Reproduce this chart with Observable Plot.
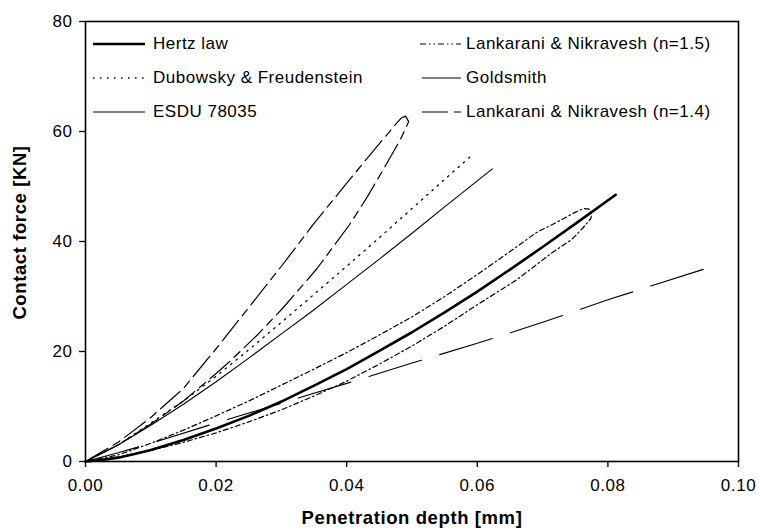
<!DOCTYPE html>
<html>
<head>
<meta charset="utf-8">
<script src="https://cdn.jsdelivr.net/npm/d3@7"></script>
<script src="https://cdn.jsdelivr.net/npm/@observablehq/plot@0.6"></script>
<style>
  body { margin: 0; background: #fff; }
  #wrap { position: relative; width: 760px; height: 532px; font-family: "Liberation Sans", Arial, sans-serif; }
  #wrap svg text { letter-spacing: 0.6px; }
  .legtext { position: absolute; font-size: 17px; letter-spacing: 0.5px; line-height: 20px; white-space: nowrap; color: #000; }
  .legsample { position: absolute; overflow: visible; }
</style>
</head>
<body>
<div id="wrap"></div>
<script>
// ---- data ----
const xTicks = [0, 0.02, 0.04, 0.06, 0.08, 0.10];
const yTicks = [0, 20, 40, 60, 80];

const hertzDepth = [0, 0.0025, 0.005, 0.0075, 0.01, 0.015, 0.02, 0.025, 0.03, 0.035, 0.04, 0.045, 0.05, 0.055, 0.06, 0.065, 0.07, 0.075, 0.0812];
const hertzForce = [0, 0.26, 0.7, 1.35, 2.1, 3.9, 6.0, 8.3, 10.9, 13.8, 16.8, 20.1, 23.5, 27.1, 30.9, 34.9, 39.0, 43.2, 48.5];

const ln15Depth = [0, 0.005, 0.01, 0.015, 0.02, 0.025, 0.03, 0.035, 0.04, 0.045, 0.05, 0.055, 0.06, 0.066, 0.069, 0.0725, 0.0748, 0.0763, 0.0771, 0.0775, 0.0774, 0.0762, 0.0745, 0.0715, 0.066, 0.06, 0.055, 0.05, 0.045, 0.04, 0.035, 0.03, 0.025, 0.02, 0.015, 0.01, 0.005, 0];
const ln15Force = [0, 1.2, 3.3, 5.7, 8.3, 11.0, 13.9, 16.8, 19.8, 23.0, 26.3, 30.0, 34.0, 39.0, 41.6, 43.7, 45.2, 46.0, 45.9, 45.2, 44.2, 42.5, 40.4, 38.0, 33.0, 28.5, 24.6, 21.0, 17.7, 14.6, 11.9, 9.4, 7.2, 5.2, 3.5, 2.0, 0.8, 0];

const dubDepth = [0, 0.005, 0.01, 0.015, 0.02, 0.025, 0.03, 0.035, 0.04, 0.045, 0.05, 0.055, 0.0592];
const dubForce = [0, 3.0, 7.0, 11.0, 15.5, 20.3, 25.3, 30.4, 35.5, 40.7, 46.0, 51.3, 55.7];

const goldDepth = [0, 0.005, 0.01, 0.015, 0.02, 0.025, 0.03, 0.035, 0.04, 0.045, 0.05, 0.055, 0.0623];
const goldForce = [0, 3.0, 6.6, 10.4, 14.5, 18.8, 23.2, 27.6, 32.2, 36.8, 41.5, 46.3, 53.2];

const esduDepth = [0, 0.005, 0.01, 0.02, 0.03, 0.04, 0.05, 0.06, 0.07, 0.08, 0.0953];
const esduForce = [0, 1.6, 3.3, 7.0, 10.6, 14.2, 17.9, 21.5, 25.3, 29.4, 35.2];

const ln14Depth = [0, 0.005, 0.01, 0.015, 0.02, 0.025, 0.03, 0.035, 0.04, 0.045, 0.0483, 0.049, 0.0495, 0.0482, 0.0458, 0.0432, 0.0404, 0.0354, 0.0303, 0.0264, 0.0221, 0.02, 0.015, 0.01, 0.005, 0];
const ln14Force = [0, 3.5, 8.0, 13.3, 20.5, 28.0, 35.5, 43.3, 50.6, 57.8, 62.4, 62.8, 61.8, 58.5, 53.5, 48.2, 43.0, 35.0, 28.0, 23.1, 18.2, 16.0, 11.0, 6.8, 3.0, 0];

const seriesNames = ["Hertz law", "Lankarani & Nikravesh (n=1.5)", "Dubowsky & Freudenstein", "Goldsmith", "ESDU 78035", "Lankarani & Nikravesh (n=1.4)"];

// ---- styles ----
const styles = {
  "Hertz law": {w: 2.6, dash: null, legDash: null},
  "Lankarani & Nikravesh (n=1.5)": {w: 1.2, dash: "5,3,1.5,3", legDash: "6,3,1.5,3,1.5,3"},
  "Dubowsky & Freudenstein": {w: 1.3, dash: "1.5,5.5", legDash: "1.5,5.5"},
  "Goldsmith": {w: 1.1, dash: null, legDash: null},
  "ESDU 78035": {w: 1.1, dash: "55,19", legDash: null},
  "Lankarani & Nikravesh (n=1.4)": {w: 1.2, dash: "26,6,8,6", legDash: "26,6,8,100"}
};

const series = [
  {name: seriesNames[0], depth: hertzDepth, force: hertzForce},
  {name: seriesNames[1], depth: ln15Depth, force: ln15Force},
  {name: seriesNames[2], depth: dubDepth, force: dubForce},
  {name: seriesNames[3], depth: goldDepth, force: goldForce},
  {name: seriesNames[4], depth: esduDepth, force: esduForce},
  {name: seriesNames[5], depth: ln14Depth, force: ln14Force}
];

const chart = Plot.plot({
  width: 760,
  height: 532,
  marginLeft: 85,
  marginRight: 22,
  marginTop: 21,
  marginBottom: 71,
  style: {fontFamily: '"Liberation Sans", Arial, sans-serif', fontSize: "17px", color: "#000", background: "#fff"},
  x: {domain: [0, 0.1]},
  y: {domain: [0, 80]},
  marks: [
    ...series.map(s => Plot.line(s.depth, {
      x: s.depth, y: s.force,
      stroke: "black",
      strokeWidth: styles[s.name].w,
      strokeDasharray: styles[s.name].dash,
      curve: "linear"
    })),
    Plot.axisX({ticks: xTicks, tickFormat: d3.format(".2f"), tickSize: 6, tickPadding: 11, label: null, strokeWidth: 1.3, fontSize: 17}),
    Plot.axisY({ticks: yTicks, tickSize: 6, tickPadding: 7, label: null, strokeWidth: 1.3, fontSize: 17}),
    Plot.frame({stroke: "black", strokeWidth: 1.6}),
    Plot.text(["Penetration depth [mm]"], {frameAnchor: "bottom", dy: 57, fontWeight: "bold", fontSize: 18.5, textAnchor: "middle", lineAnchor: "middle"}),
    Plot.text(["Contact force [KN]"], {frameAnchor: "left", dx: -65, dy: -9, rotate: -90, fontWeight: "bold", fontSize: 18.5, textAnchor: "middle", lineAnchor: "middle"})
  ]
});

const wrap = document.getElementById("wrap");
wrap.appendChild(chart);

// ---- legend inside the plot area ----
const legendLayout = [
  {name: seriesNames[0], sx: 93, sw: 52, tx: 153, y: 44},
  {name: seriesNames[2], sx: 93, sw: 52, tx: 153, y: 78},
  {name: seriesNames[4], sx: 93, sw: 52, tx: 153, y: 112},
  {name: seriesNames[1], sx: 420, sw: 41, tx: 466, y: 44},
  {name: seriesNames[3], sx: 422, sw: 39, tx: 466, y: 78},
  {name: seriesNames[5], sx: 422, sw: 39, tx: 466, y: 112}
];
legendLayout.forEach(it => {
  const st = styles[it.name];
  const svg = d3.select(wrap).append("svg")
    .attr("class", "legsample")
    .attr("width", it.sw).attr("height", 10)
    .style("left", it.sx + "px").style("top", (it.y - 5) + "px");
  svg.append("line")
    .attr("x1", 0).attr("x2", it.sw).attr("y1", 5).attr("y2", 5)
    .attr("stroke", "black")
    .attr("stroke-width", st.w)
    .attr("stroke-dasharray", st.legDash);
  d3.select(wrap).append("div")
    .attr("class", "legtext")
    .style("left", it.tx + "px").style("top", (it.y - 10) + "px")
    .text(it.name);
});
</script>
</body>
</html>
